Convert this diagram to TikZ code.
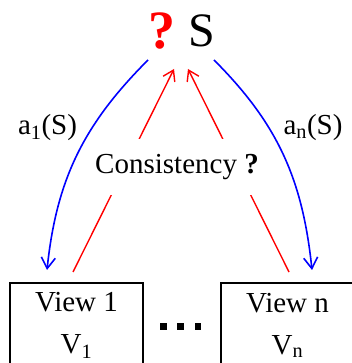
\documentclass[tikz,border=0pt]{standalone}
\usepackage{fontspec}
\setmainfont{Liberation Serif}
\usetikzlibrary{arrows.meta,calc}
\tikzset{
  viewbox/.style={draw=black, line width=2pt, outer sep=0pt, minimum width=133pt, minimum height=84pt,
    align=center, inner sep=0pt, font=\fontsize{29}{42}\selectfont},
  lbl/.style={inner sep=0pt, font=\fontsize{29}{34}\selectfont},
  bluearr/.style={draw={rgb,255:red,0;green,0;blue,255}, line width=1.6pt, -{Straight Barb[length=11pt,width=14pt,line width=1.6pt]}},
  redarr/.style={draw={rgb,255:red,255;green,0;blue,0}, line width=1.4pt, -{Straight Barb[length=10pt,width=13pt,line width=1.4pt]}},
  dotsq/.style={fill=black}
}
\begin{document}
\begin{tikzpicture}[x=1pt,y=1pt]
\useasboundingbox (0,0) rectangle (352,363);
% top nodes
\node[inner sep=0pt, anchor=base, text=red, font=\fontsize{54}{60}\selectfont\bfseries] (q) at (161.5,314) {?};
\node[inner sep=0pt, anchor=base, font=\fontsize{48}{56}\selectfont] (S) at (202,316) {S};
% view boxes
\node[viewbox] (v1) at (76.5,37.5) {View 1\\V\textsubscript{1}};
\node[viewbox] (vn) at (287.5,37.5) {View n\\V\textsubscript{n}};
% dots
\fill[dotsq] (160,33.3) rectangle ++(6.5,6.5);
\fill[dotsq] (177,33.3) rectangle ++(6.5,6.5);
\fill[dotsq] (194.5,33.3) rectangle ++(6.5,6.5);
% connector end points
\coordinate (b1s) at ($(q.base)+(-13.5,-11)$);
\coordinate (b1e) at ($(v1.north)+(-29.5,13.5)$);
\coordinate (bns) at ($(S.base)+(12,-13)$);
\coordinate (bne) at ($(vn.north)+(24.5,13.5)$);
\coordinate (r1s) at ($(v1.north)+(-3.5,11.5)$);
\coordinate (r1e) at ($(S.base)+(-28,-22)$);
\coordinate (rns) at ($(vn.north)+(1.5,11.5)$);
\coordinate (rne) at ($(S.base)+(-14,-22)$);
% blue curved arrows
\draw[bluearr] (b1s) to[out=225,in=84] (b1e);
\draw[bluearr] (bns) to[out=-45,in=96] (bne);
% red arrows
\draw[redarr] (r1s) -- (r1e);
\draw[redarr] (rns) -- (rne);
% consistency label over the red lines
\node[lbl, anchor=base, fill=white, inner xsep=2pt, text height=19pt, text depth=6pt, minimum height=56pt] (c) at (177,189) {Consistency \textbf{?}};
% side labels
\node[lbl, anchor=base] (a1) at (47.5,228) {a\textsubscript{1}(S)};
\node[lbl, anchor=base] (an) at (313,228) {a\textsubscript{n}(S)};
\end{tikzpicture}
\end{document}
